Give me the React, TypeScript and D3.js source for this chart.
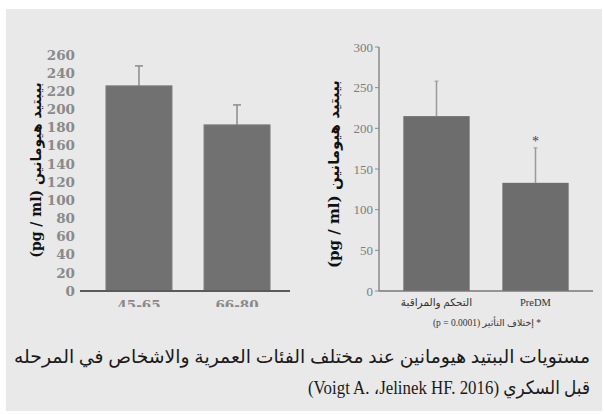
import * as d3 from "d3";

const leftCategories = ["45-65", "66-80"];
const leftValues = [226, 183];
const leftErrors = [22, 22];
const leftTicks = [0, 20, 40, 60, 80, 100, 120, 140, 160, 180, 200, 220, 240, 260];

const rightCategories = ["التحكم والمراقبة", "PreDM"];
const rightValues = [215, 133];
const rightErrors = [43, 43];
const rightTicks = [0, 50, 100, 150, 200, 250, 300];

const yLabel = "(pg / ml) بيبتيد هيومانين";
const footnote = "* إختلاف التأثير (p = 0.0001)";
const captionLines = [
  "مستويات الببتيد هيومانين عند مختلف الفئات العمرية والاشخاص في المرحله",
  "قبل السكري (Voigt A. ،Jelinek HF. 2016)",
];
const captionWidths = [576, 282];

export default function App() {
  const width = 604;
  const height = 414;

  // left chart
  const yL = d3.scaleLinear().domain([0, 260]).range([291, 55]);
  const xL = d3
    .scaleBand()
    .domain(leftCategories)
    .range([90, 286])
    .paddingInner(0.327)
    .paddingOuter(0.163);

  // right chart
  const yR = d3.scaleLinear().domain([0, 300]).range([291, 47]);
  const xR = d3
    .scaleBand()
    .domain(rightCategories)
    .range([387, 585])
    .paddingInner(0.33)
    .paddingOuter(0.165);

  const serifBold = "'DejaVu Serif', 'DejaVu Sans', serif";
  const serif = "'Liberation Serif', 'DejaVu Sans', serif";

  return (
    <svg
      width={width}
      height={height}
      style={{ position: "absolute", left: 0, top: 0 }}
    >
      <defs>
        <clipPath id="clipL">
          <rect x={0} y={0} width={300} height={307} />
        </clipPath>
      </defs>
      <rect x={0} y={0} width={width} height={height} fill="#ffffff" />
      <rect x={6} y={9} width={596} height={402} fill="#e8e9e8" />

      {/* left chart */}
      <g>
        {leftTicks.map((t) => (
          <text
            key={t}
            x={75}
            y={yL(t)}
            dy="0.35em"
            textAnchor="end"
            fontFamily={serifBold}
            fontWeight="bold"
            fontSize={13.5}
            fill="#8a8a8a"
          >
            {t}
          </text>
        ))}
        {leftCategories.map((c, i) => {
          const x = xL(c)!;
          const cx = x + xL.bandwidth() / 2;
          return (
            <g key={c}>
              <line
                x1={cx}
                x2={cx}
                y1={yL(leftValues[i])}
                y2={yL(leftValues[i] + leftErrors[i])}
                stroke="#8c8c8c"
                strokeWidth={1.5}
              />
              <line
                x1={cx - 4}
                x2={cx + 4}
                y1={yL(leftValues[i] + leftErrors[i])}
                y2={yL(leftValues[i] + leftErrors[i])}
                stroke="#8c8c8c"
                strokeWidth={1.5}
              />
              <rect
                x={x}
                y={yL(leftValues[i])}
                width={xL.bandwidth()}
                height={yL(0) - yL(leftValues[i])}
                fill="#707170"
                stroke="#7c7d7c"
                strokeWidth={1}
              />
              <text
                x={cx}
                y={310}
                textAnchor="middle"
                fontFamily={serifBold}
                fontWeight="bold"
                fontSize={13.5}
                fill="#8a8a8a"
                clipPath="url(#clipL)"
              >
                {c}
              </text>
            </g>
          );
        })}
        <line x1={80} x2={290} y1={291} y2={291} stroke="#5a5a5a" strokeWidth={2} />
        <text
          transform={`translate(41,170) rotate(-90)`}
          textAnchor="middle"
          fontFamily={serifBold}
          fontWeight="bold"
          fontSize={14}
          fill="#111"
        >
          {yLabel}
        </text>
      </g>

      {/* right chart */}
      <g>
        {rightTicks.map((t) => (
          <g key={t}>
            <line x1={375} x2={379} y1={yR(t)} y2={yR(t)} stroke="#8a8a8a" strokeWidth={1} />
            <text
              x={373}
              y={yR(t)}
              dy="0.35em"
              textAnchor="end"
              fontFamily={serif}
              fontSize={13}
              fill="#7d7d7d"
            >
              {t}
            </text>
          </g>
        ))}
        {rightCategories.map((c, i) => {
          const x = xR(c)!;
          const cx = x + xR.bandwidth() / 2;
          return (
            <g key={c}>
              <line
                x1={cx}
                x2={cx}
                y1={yR(rightValues[i])}
                y2={yR(rightValues[i] + rightErrors[i])}
                stroke="#9a9a9a"
                strokeWidth={1.5}
              />
              <line
                x1={cx - 2}
                x2={cx + 2}
                y1={yR(rightValues[i] + rightErrors[i])}
                y2={yR(rightValues[i] + rightErrors[i])}
                stroke="#9a9a9a"
                strokeWidth={1}
              />
              <rect
                x={x}
                y={yR(rightValues[i])}
                width={xR.bandwidth()}
                height={yR(0) - yR(rightValues[i])}
                fill="#6d6d6d"
              />
              <text
                x={cx}
                y={306}
                textAnchor="middle"
                fontFamily={serif}
                fontSize={10.5}
                fill="#333"
              >
                {c}
              </text>
            </g>
          );
        })}
        <text
          x={xR("PreDM")! + xR.bandwidth() / 2}
          y={146}
          textAnchor="middle"
          fontFamily={serif}
          fontSize={14}
          fill="#444"
        >
          *
        </text>
        <line x1={379} x2={379} y1={47} y2={291} stroke="#8a8a8a" strokeWidth={1.5} />
        <line x1={379} x2={593} y1={291} y2={291} stroke="#777" strokeWidth={1.5} />
        <text
          transform={`translate(339,174) rotate(-90)`}
          textAnchor="middle"
          fontFamily={serifBold}
          fontWeight="bold"
          fontSize={15}
          fill="#111"
        >
          {yLabel}
        </text>
        <text
          x={487}
          y={326}
          textAnchor="middle"
          direction="rtl"
          fontFamily={serif}
          fontSize={9.5}
          fill="#333"
        >
          {footnote}
        </text>
      </g>

      {/* caption */}
      {captionLines.map((line, i) => (
        <text
          key={i}
          x={590}
          y={363 + i * 31}
          direction="rtl"
          textAnchor="start"
          fontFamily={serif}
          fontSize={18.5}
          fill="#1a1a1a"
          textLength={captionWidths[i]}
          lengthAdjust="spacingAndGlyphs"
        >
          {line}
        </text>
      ))}
    </svg>
  );
}
